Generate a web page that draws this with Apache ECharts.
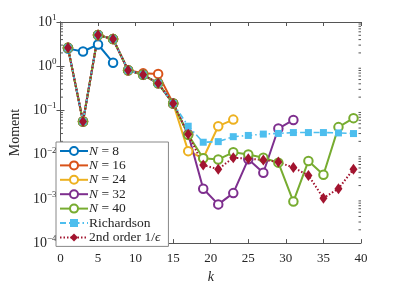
<!DOCTYPE html>
<html><head><meta charset="utf-8">
<script src="https://cdn.jsdelivr.net/npm/echarts@6/dist/echarts.min.js"></script>
<style>html,body{margin:0;padding:0;background:#fff}#c{width:399px;height:289px}</style>
</head><body><div id="c"></div>
<script>
const kOdd = [1,3,5,7,9,11,13,15,17,19,21,23,25,27,29,31,33,35,37,39];
const common = [2.6, 0.056, 5.1, 4.1, 0.81, 0.64, 0.41, 0.143];
const n8 = [2.5, 2.15, 3.1, 1.2];
const n16 = [2.6, 0.056, 5.1, 4.1, 0.81, 0.69, 0.67, 0.143];
const n24tail = [0.012, 0.0083, 0.044, 0.062];
const n32tail = [0.029, 0.0017, 0.00075, 0.00135, 0.0079, 0.0039, 0.039, 0.061];
const n40tail = [0.028, 0.0083, 0.0078, 0.0113, 0.0101, 0.0085, 0.0066, 0.00087, 0.0072, 0.0035, 0.042, 0.067];
const richTail = [0.044, 0.0191, 0.0197, 0.0255, 0.0272, 0.0292, 0.0302, 0.0316, 0.0316, 0.0316, 0.031, 0.030];
const secondTail = [0.029, 0.0058, 0.0047, 0.0085, 0.0081, 0.0076, 0.0068, 0.0051, 0.0034, 0.00104, 0.0017, 0.0047];
const xTicks = [0,5,10,15,20,25,30,35,40];
const yDecades = [-4,-3,-2,-1,0,1];
const seriesNames = ['N = 8','N = 16','N = 24','N = 32','N = 40','Richardson','2nd order 1/ϵ'];
const colors = ['#0072BD','#D95319','#EDB120','#7E2F8E','#77AC30','#4DBEEE','#A2142F'];

function pairs(vals){ return vals.map((v,i)=>[kOdd[i], v]); }
const seriesVals = [
  n8, n16, common.concat(n24tail), common.concat(n32tail), common.concat(n40tail),
  common.concat(richTail), common.concat(secondTail)
];
const minorVals = [];
for (let d = -4; d < 1; d++) for (let m = 2; m <= 9; m++) minorVals.push(m*Math.pow(10,d));

const serif = 'Liberation Serif';
const sup = {'-':'\u2212'};
function yfmt(v){
  const e = Math.round(Math.log10(v));
  const s = String(e).split('').map(c=>sup[c]||c).join('');
  return '{b|10}{s|' + s + '}';
}

const series = seriesVals.map((vals,i)=>{
  const base = {
    name: seriesNames[i], type: 'line', data: pairs(vals), color: colors[i],
    animation: false, z: 2
  };
  if (i < 5) {
    base.symbol = 'emptyCircle'; base.symbolSize = 8.5;
    base.lineStyle = {width: 2, color: colors[i]};
    base.itemStyle = {color: colors[i], borderWidth: 2};
  } else if (i === 5) {
    base.symbol = 'rect'; base.symbolSize = 7;
    base.lineStyle = {width: 1.6, color: colors[i], type: [6,3,1.5,3]};
    base.itemStyle = {color: colors[i]};
  } else {
    base.symbol = 'diamond'; base.symbolSize = [8,11];
    base.lineStyle = {width: 2, color: colors[i], type: [1.5,2]};
    base.itemStyle = {color: colors[i]};
  }
  return base;
});
series.push({
  type: 'custom', silent: true, z: 1, animation: false,
  data: minorVals.map(v=>[0, v]),
  renderItem: function(params, api){
    const cs = params.coordSys;
    const y = api.coord([0, api.value(1)])[1];
    const st = {stroke: '#555', lineWidth: 1};
    return {type: 'group', children: [
      {type: 'line', shape: {x1: cs.x, y1: y, x2: cs.x + 2.5, y2: y}, style: st},
      {type: 'line', shape: {x1: cs.x + cs.width, y1: y, x2: cs.x + cs.width - 2.5, y2: y}, style: st}
    ]};
  }
});

const axisCol = '#555';
const option = {
  backgroundColor: '#fff',
  animation: false,
  grid: {left: 52, right: 38, top: 22, bottom: 40},
  xAxis: [{
    type: 'value', min: 0, max: 40, interval: 5,
    name: 'k', nameLocation: 'middle', nameGap: 24,
    nameTextStyle: {fontFamily: serif, fontStyle: 'italic', fontSize: 14, color: '#262626'},
    axisLine: {lineStyle: {color: axisCol}},
    axisTick: {inside: true, length: 4, lineStyle: {color: axisCol}},
    axisLabel: {fontFamily: serif, fontSize: 13, color: '#262626', margin: 9,
      formatter: v => xTicks.includes(v) ? String(v) : ''},
    splitLine: {show: false}
  },{
    type: 'value', min: 0, max: 40, interval: 5, position: 'top',
    axisLine: {show: true, lineStyle: {color: axisCol}},
    axisTick: {inside: true, length: 4, lineStyle: {color: axisCol}},
    axisLabel: {show: false}, splitLine: {show: false}
  }],
  yAxis: [{
    type: 'log', logBase: 10, min: 1e-4, max: 10,
    name: 'Moment', nameLocation: 'middle', nameGap: 36,
    nameTextStyle: {fontFamily: serif, fontSize: 14, color: '#262626'},
    axisLine: {show: true, lineStyle: {color: axisCol}},
    axisTick: {show: true, inside: true, length: 4, lineStyle: {color: axisCol}},
    axisLabel: {formatter: yfmt, margin: 4, color: '#262626',
      rich: {
        b: {fontFamily: serif, fontSize: 14, color: '#262626'},
        s: {fontFamily: serif, fontSize: 9, color: '#262626', verticalAlign: 'top', padding: [0,0,9,0]}
      }},
    splitLine: {show: false}
  },{
    type: 'log', logBase: 10, min: 1e-4, max: 10, position: 'right',
    axisLine: {show: true, lineStyle: {color: axisCol}},
    axisTick: {show: true, inside: true, length: 4, lineStyle: {color: axisCol}},
    axisLabel: {show: false}, splitLine: {show: false}
  }],
  legend: {
    data: seriesNames, orient: 'vertical', left: 56, top: 142, z: 20,
    padding: [2, 8, 2, 3], itemGap: 0.4, itemWidth: 28, itemHeight: 10,
    backgroundColor: '#fff', borderColor: '#888', borderWidth: 1, borderRadius: 0,
    textStyle: {fontFamily: serif, fontSize: 13.5, lineHeight: 14, color: '#262626', padding: [0,0,0,-4],
      rich: {i: {fontFamily: serif, fontStyle: 'italic', fontSize: 13.5, lineHeight: 14, color: '#262626'},
             r: {fontFamily: serif, fontSize: 13.5, lineHeight: 14, color: '#262626'}}},
    formatter: function(name){
      if (name.startsWith('N =')) return '{i|N}{r| = ' + name.slice(4) + '}';
      if (name.startsWith('2nd')) return '{r|2nd order 1/}{i|ϵ}';
      return '{r|' + name + '}';
    }
  },
  series: series
};
const chart = echarts.init(document.getElementById('c'), null, {renderer: 'canvas'});
chart.setOption(option);
</script></body></html>
